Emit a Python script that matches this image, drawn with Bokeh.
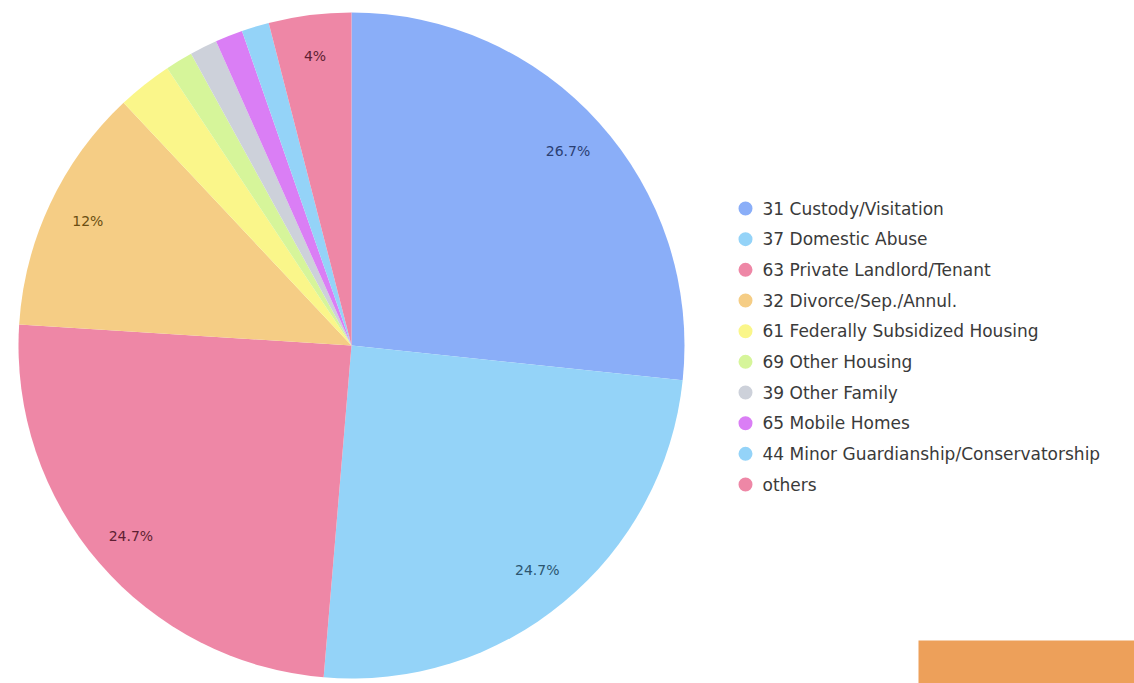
import numpy as np
from bokeh.plotting import figure
from bokeh.models import Range1d, ColumnDataSource
from bokeh.core.properties import value
from bokeh.embed import file_html
from bokeh.resources import INLINE

categories = ["31 Custody/Visitation", "37 Domestic Abuse", "63 Private Landlord/Tenant",
              "32 Divorce/Sep./Annul.", "61 Federally Subsidized Housing", "69 Other Housing",
              "39 Other Family", "65 Mobile Homes", "44 Minor Guardianship/Conservatorship", "others"]
counts = [40, 37, 37, 18, 4, 2, 2, 2, 2, 6]
colors = ["#8AAEF8", "#94D3F8", "#EE87A6", "#F5CD85", "#FAF68A", "#D6F59A",
          "#CDD1DA", "#DA7EF5", "#94D3F8", "#EE87A6"]
label_colors = ["#2B3F73", "#2B5570", "#5E1F33", "#6B4E12", "#6B6815", "#4E6B15",
                "#4A4E57", "#5A2370", "#2B5570", "#5E1F33"]

W, H = 1134, 683
p = figure(width=W, height=H, x_range=Range1d(0, W), y_range=Range1d(0, H),
           output_backend="svg", toolbar_location=None, min_border=0)
p.axis.visible = False
p.grid.visible = False
p.outline_line_color = None
p.background_fill_color = "white"

total = sum(counts)
frac = np.array(counts) / total
cum = np.concatenate([[0], np.cumsum(frac)])
start = np.pi / 2 - cum[:-1] * 2 * np.pi
end = np.pi / 2 - cum[1:] * 2 * np.pi
cx, cy, r = 351, H - 345, 333

src = ColumnDataSource(dict(start=start, end=end, color=colors))
p.wedge(x=cx, y=cy, radius=r, start_angle="start", end_angle="end",
        direction="clock", fill_color="color", line_color=None, source=src)

# slice labels
lx, ly, lt, lc = [], [], [], []
for i, f in enumerate(frac):
    pct = round(f * 100, 1)
    if pct < 3.5:
        continue
    mid = (cum[i] + cum[i + 1]) / 2 * 2 * np.pi
    lx.append(cx + 0.875 * r * np.sin(mid))
    ly.append(cy + 0.875 * r * np.cos(mid))
    lt.append(("%g" % pct) + "%")
    lc.append(label_colors[i])
p.text(x=lx, y=ly, text=lt, text_color=lc, text_font=value("DejaVu Sans"),
       text_font_size="14px", text_align="center", text_baseline="middle")

# legend
ys = [H - (208 + 30.67 * i) for i in range(len(categories))]
p.scatter(x=[745] * len(categories), y=ys, size=14, fill_color=colors, line_color=None)
p.text(x=[762] * len(categories), y=ys, text=categories, text_color="#3a3a3a",
       text_font=value("DejaVu Sans"), text_font_size="17px", text_baseline="middle")

# orange block bottom right
p.quad(left=[918], right=[W], bottom=[0], top=[H - 640], fill_color="#EDA05A", line_color=None)

open("out.html", "w").write(file_html(p, INLINE))
